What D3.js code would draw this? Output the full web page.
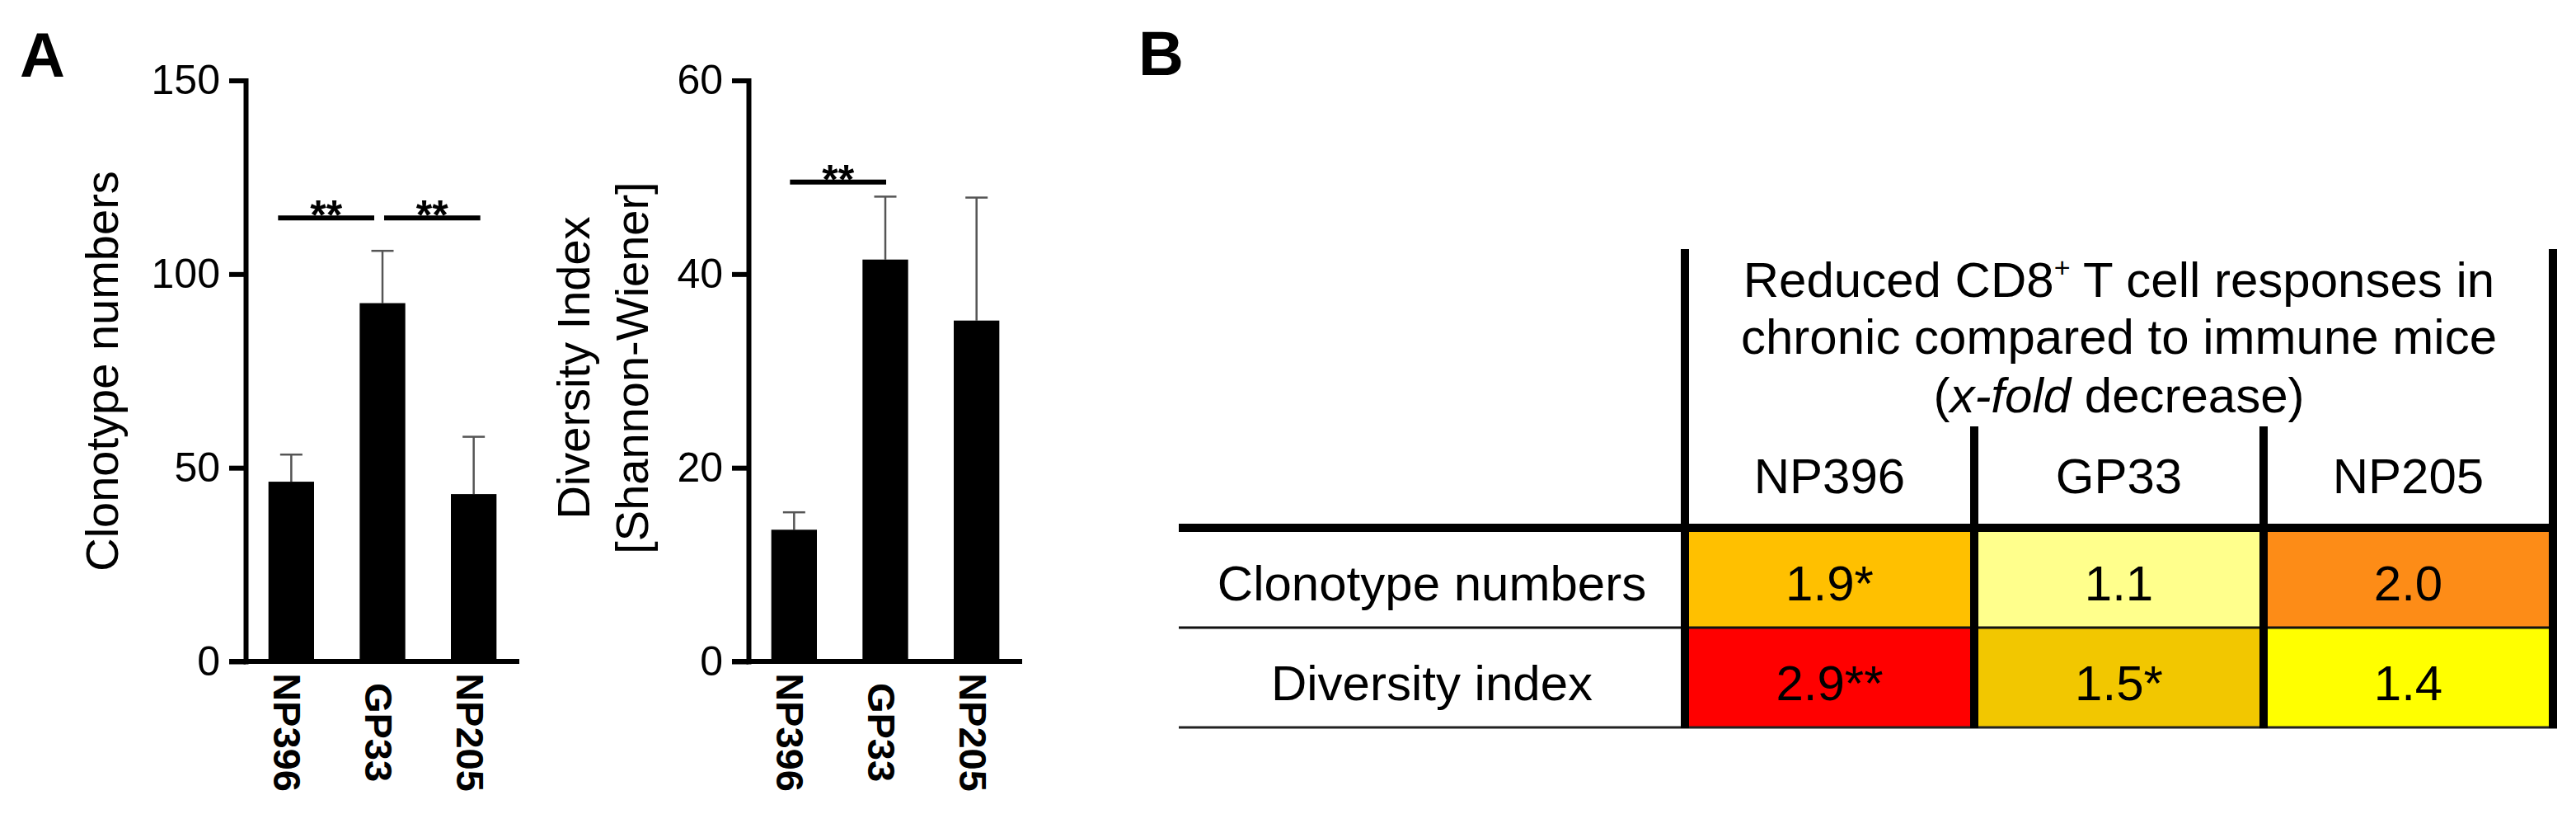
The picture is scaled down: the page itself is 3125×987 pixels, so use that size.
<!DOCTYPE html>
<html>
<head>
<meta charset="utf-8">
<title>Clonotype numbers and diversity index</title>
<script src="https://cdn.jsdelivr.net/npm/d3@7/dist/d3.min.js"></script>
<style>
  body { margin: 0; background: #fff; }
  text { font-family: "Liberation Sans", Arial, sans-serif; fill: #000; }
</style>
</head>
<body>
<script>
// ---- data ----
var categories = ["NP396", "GP33", "NP205"];

var clonoMean = [46.4, 92.5, 43.2];
var clonoSem  = [7.0, 13.5, 14.8];
var clonoTicks = [0, 50, 100, 150];
var clonoSig = [
  {a: "NP396", b: "GP33", y: 114.5, label: "**"},
  {a: "GP33", b: "NP205", y: 114.5, label: "**"}
];

var divMean = [13.6, 41.5, 35.2];
var divSem  = [1.8, 6.5, 12.7];
var divTicks = [0, 20, 40, 60];
var divSig = [
  {a: "NP396", b: "GP33", y: 49.5, label: "**"}
];

var rowLabels = ["Clonotype numbers", "Diversity index"];
var foldClono = [1.9, 1.1, 2.0];
var foldDiv   = [2.9, 1.5, 1.4];
var starsClono = ["*", "", ""];
var starsDiv   = ["**", "*", ""];

// colour of a cell follows the fold value
var heatStops  = [1.1, 1.4, 1.5, 1.9, 2.0, 2.9];
var heatColors = ["#ffff8c", "#ffff00", "#f2c700", "#ffc000", "#fd8c17", "#ff0000"];

var width = 3125, height = 987;

var svg = d3.select("body").append("svg")
  .attr("width", width)
  .attr("height", height);

// panel letters
svg.append("text").attr("x", 24).attr("y", 93)
  .attr("font-size", 76).attr("font-weight", "bold").text("A");
svg.append("text").attr("x", 1381).attr("y", 91)
  .attr("font-size", 76).attr("font-weight", "bold").text("B");

// ---- panel A: bar charts ----
function barChart(o) {
  var g = svg.append("g");
  var x = d3.scaleBand().domain(categories)
    .range([o.left, o.left + 332]).paddingInner(0.5).paddingOuter(0.25);
  var y = d3.scaleLinear().domain([0, o.max]).range([802, 97.5]);
  var bw = x.bandwidth();
  var xc = function(d) { return x(d) + bw / 2; };

  // error bars (upper only)
  var err = g.append("g").attr("stroke", "#555").attr("stroke-width", 2.5);
  err.selectAll("line.v").data(categories).join("line").attr("class", "v")
    .attr("x1", xc).attr("x2", xc)
    .attr("y1", function(d, i) { return y(o.mean[i]); })
    .attr("y2", function(d, i) { return y(o.mean[i] + o.sem[i]); });
  err.selectAll("line.c").data(categories).join("line").attr("class", "c")
    .attr("x1", function(d) { return xc(d) - 13.5; })
    .attr("x2", function(d) { return xc(d) + 13.5; })
    .attr("y1", function(d, i) { return y(o.mean[i] + o.sem[i]); })
    .attr("y2", function(d, i) { return y(o.mean[i] + o.sem[i]); });

  // bars
  g.selectAll("rect.bar").data(categories).join("rect").attr("class", "bar")
    .attr("x", function(d) { return x(d); })
    .attr("width", bw)
    .attr("y", function(d, i) { return y(o.mean[i]); })
    .attr("height", function(d, i) { return y(0) - y(o.mean[i]); })
    .attr("fill", "#000");

  // y axis
  var ya = g.append("g").attr("transform", "translate(" + o.left + ",0)")
    .call(d3.axisLeft(y).tickValues(o.ticks).tickSize(20).tickSizeOuter(0).tickPadding(11));
  ya.select(".domain").attr("stroke", "#000").attr("stroke-width", 6).attr("stroke-linecap", "square");
  ya.selectAll(".tick line").attr("stroke", "#000").attr("stroke-width", 6);
  ya.selectAll(".tick text").attr("font-size", 50).attr("font-family", null);

  // x axis
  var xa = g.append("g").attr("transform", "translate(0,802)")
    .call(d3.axisBottom(x).tickSize(0).tickSizeOuter(0));
  xa.select(".domain").remove();
  xa.append("line").attr("x1", o.left - 20).attr("x2", o.left + 332)
    .attr("stroke", "#000").attr("stroke-width", 6);
  xa.selectAll(".tick text")
    .attr("transform", "rotate(90)")
    .attr("x", 86).attr("y", 21).attr("dy", null)
    .attr("text-anchor", "middle")
    .attr("font-size", 47).attr("font-weight", "bold").attr("font-family", null);

  // significance bars
  var prevEnd = null;
  o.sig.forEach(function(s) {
    var shared = prevEnd === s.a;
    var x1 = shared ? xc(s.a) + 2 : xc(s.a) - o.sigShift;
    var x2 = shared ? xc(s.b) + 8 : xc(s.b) - o.sigShift + 6;
    g.append("line").attr("x1", x1).attr("x2", x2)
      .attr("y1", y(s.y)).attr("y2", y(s.y))
      .attr("stroke", "#000").attr("stroke-width", 6);
    g.append("text").attr("x", (x1 + x2) / 2).attr("y", y(s.y) + 14)
      .attr("text-anchor", "middle").attr("font-size", 50).attr("font-weight", "bold")
      .text(s.label);
    prevEnd = s.b;
  });

  // y title
  o.title.forEach(function(t, i) {
    svg.append("text")
      .attr("transform", "translate(" + o.titleX[i] + "," + o.titleY + ") rotate(-90)")
      .attr("text-anchor", "middle").attr("font-size", 56).text(t);
  });
}

barChart({left: 298, max: 150, ticks: clonoTicks, mean: clonoMean, sem: clonoSem,
  sig: clonoSig, sigShift: 16, title: ["Clonotype numbers"], titleX: [143], titleY: 450});
barChart({left: 908, max: 60, ticks: divTicks, mean: divMean, sem: divSem,
  sig: divSig, sigShift: 5, title: ["Diversity Index", "[Shannon-Wiener]"], titleX: [715, 786], titleY: 446});

// ---- panel B: table ----
var heat = d3.scaleLinear().domain(heatStops).range(heatColors);
var colX = d3.scaleBand().domain(categories).range([2044, 3097]);
var rowY = d3.scaleBand().domain(rowLabels).range([640, 882]);
var cw = colX.bandwidth(), rh = rowY.bandwidth();
var tableRows = [
  {label: rowLabels[0], vals: foldClono, stars: starsClono},
  {label: rowLabels[1], vals: foldDiv, stars: starsDiv}
];

var tb = svg.append("g");
tableRows.forEach(function(r) {
  tb.selectAll(null).data(categories).join("rect")
    .attr("x", function(d) { return colX(d); })
    .attr("y", rowY(r.label))
    .attr("width", cw).attr("height", rh)
    .attr("fill", function(d, i) { return heat(r.vals[i]); });
  tb.selectAll(null).data(categories).join("text")
    .attr("x", function(d) { return colX(d) + cw / 2; })
    .attr("y", rowY(r.label) + rh / 2 + 27)
    .attr("text-anchor", "middle").attr("font-size", 60)
    .text(function(d, i) { return r.vals[i].toFixed(1) + r.stars[i]; });
  tb.append("text").attr("x", 1737).attr("y", rowY(r.label) + rh / 2 + 27)
    .attr("text-anchor", "middle").attr("font-size", 60).text(r.label);
});

// column headers
tb.selectAll(null).data(categories).join("text")
  .attr("x", function(d) { return colX(d) + cw / 2; })
  .attr("y", 598).attr("text-anchor", "middle").attr("font-size", 60)
  .text(function(d) { return d; });

// title over the columns
var tx = (colX.range()[0] + colX.range()[1]) / 2;
var t1 = tb.append("text").attr("x", tx).attr("y", 360).attr("text-anchor", "middle").attr("font-size", 60);
t1.append("tspan").text("Reduced CD8");
t1.append("tspan").attr("font-size", 34).attr("dy", -24).text("+");
t1.append("tspan").attr("dy", 24).text(" T cell responses in");
tb.append("text").attr("x", tx).attr("y", 429).attr("text-anchor", "middle").attr("font-size", 60)
  .text("chronic compared to immune mice");
var t3 = tb.append("text").attr("x", tx).attr("y", 500).attr("text-anchor", "middle").attr("font-size", 60);
t3.append("tspan").text("(");
t3.append("tspan").attr("font-style", "italic").text("x-fold");
t3.append("tspan").text(" decrease)");

// grid lines
tb.append("line").attr("x1", 1430).attr("x2", 3102).attr("y1", 640).attr("y2", 640)
  .attr("stroke", "#000").attr("stroke-width", 10);
tb.append("line").attr("x1", 1430).attr("x2", 3097).attr("y1", rowY(rowLabels[1])).attr("y2", rowY(rowLabels[1]))
  .attr("stroke", "#111").attr("stroke-width", 3);
tb.append("line").attr("x1", 1430).attr("x2", 3102).attr("y1", 882).attr("y2", 882)
  .attr("stroke", "#222").attr("stroke-width", 3);
var vx = categories.map(function(d) { return colX(d); }).concat([colX.range()[1]]);
tb.selectAll(null).data(vx).join("line")
  .attr("x1", function(d) { return d; }).attr("x2", function(d) { return d; })
  .attr("y1", function(d, i) { return (i === 0 || i === vx.length - 1) ? 302 : 517; })
  .attr("y2", 883)
  .attr("stroke", "#000").attr("stroke-width", 10);
</script>
</body>
</html>
